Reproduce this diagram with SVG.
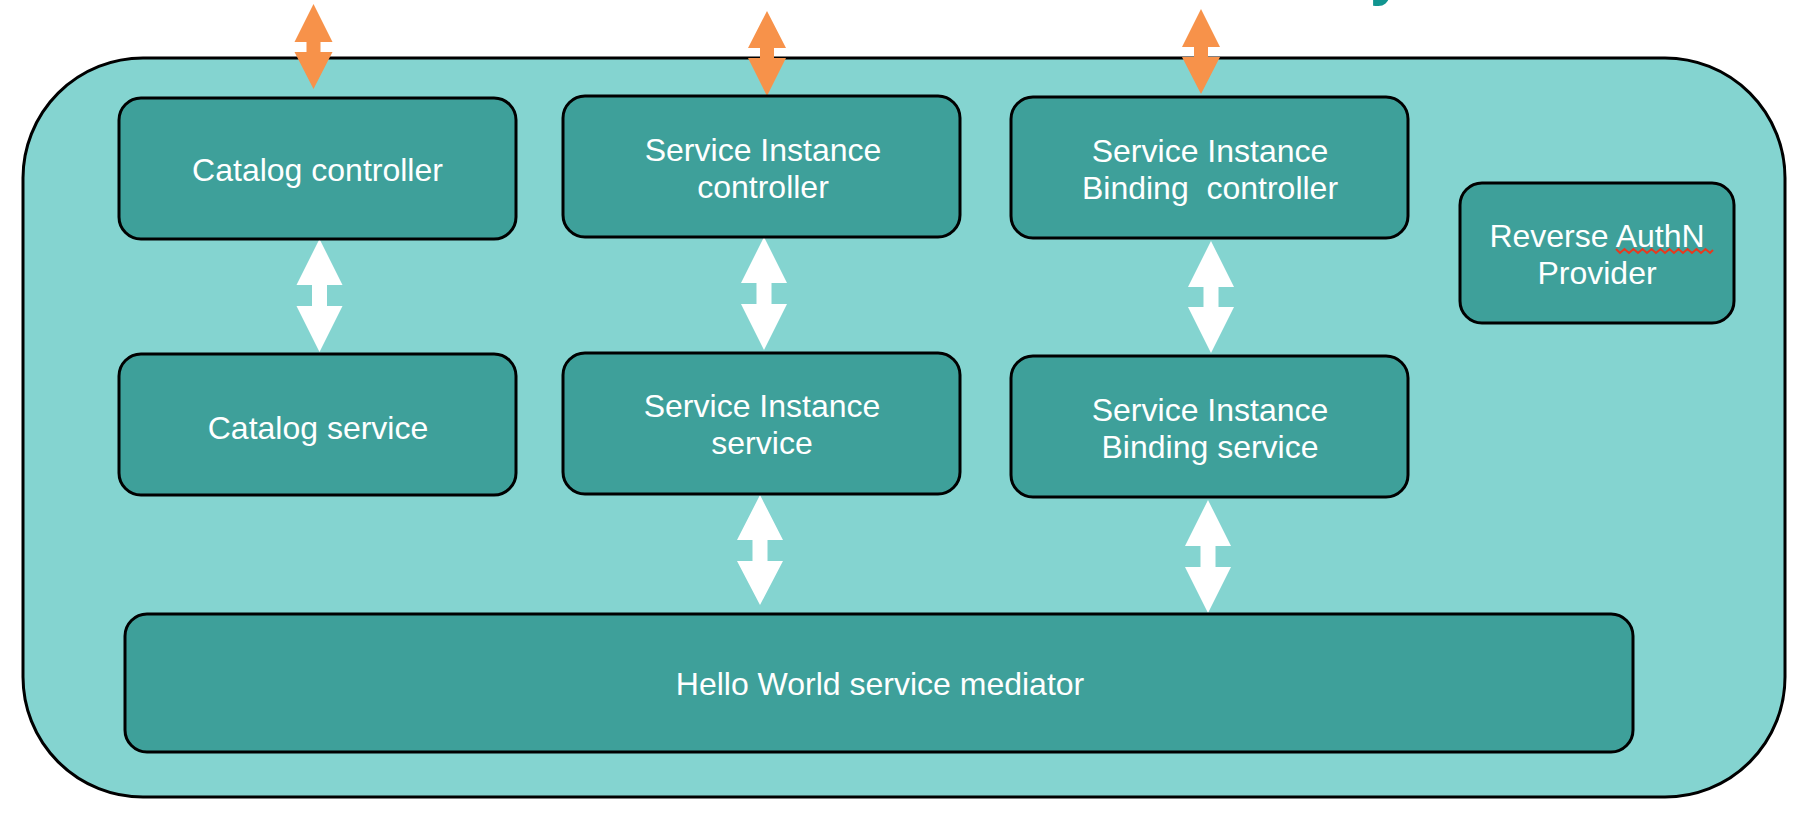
<svg xmlns="http://www.w3.org/2000/svg" width="1812" height="816" viewBox="0 0 1812 816">
<style>
.node rect{fill:#3EA09A;stroke:#000;stroke-width:3}
.node text{fill:#fff;font-family:"Liberation Sans",Arial,sans-serif;font-size:32px;text-anchor:middle}
.orange{fill:#F7924A}
.white{fill:#fff}
</style>
<rect width="1812" height="816" fill="#fff"/>
<text x="1370" y="-6" font-family="Liberation Sans,Arial,sans-serif" font-size="60" font-weight="bold" fill="#119590">y</text>
<g id="container">
<rect x="23" y="58" width="1762" height="739" rx="120" ry="120" fill="#84D4D0" stroke="#000" stroke-width="3"/>
</g>
<g id="connectors">
<polygon class="orange" points="313.5,4 332.5,42 320.5,42 320.5,52 332.5,52 313.5,89 294.5,52 306.5,52 306.5,42 294.5,42"/>
<polygon class="orange" points="767,11 786,48 774,48 774,58 786,58 767,96 748,58 760,58 760,48 748,48"/>
<polygon class="orange" points="1201,9 1220,47 1208,47 1208,57 1220,57 1201,94 1182,57 1194,57 1194,47 1182,47"/>
<polygon class="white" points="319.5,239 342.5,285 327,285 327,306 342.5,306 319.5,352 296.5,306 312,306 312,285 296.5,285"/>
<polygon class="white" points="764,237 787,283 771.5,283 771.5,304 787,304 764,350 741,304 756.5,304 756.5,283 741,283"/>
<polygon class="white" points="1211,241 1234,287 1218.5,287 1218.5,307 1234,307 1211,353 1188,307 1203.5,307 1203.5,287 1188,287"/>
<polygon class="white" points="760,495 783,540 767.5,540 767.5,561 783,561 760,605 737,561 752.5,561 752.5,540 737,540"/>
<polygon class="white" points="1208,500 1231,546 1215.5,546 1215.5,567 1231,567 1208,613 1185,567 1200.5,567 1200.5,546 1185,546"/>
</g>
<g id="catalog-controller" class="node">
<rect x="119" y="98" width="397" height="141" rx="22"/>
<text x="317.5" y="181">Catalog controller</text>
</g>
<g id="si-controller" class="node">
<rect x="563" y="96" width="397" height="141" rx="22"/>
<text x="763" y="161">Service Instance</text>
<text x="763" y="198">controller</text>
</g>
<g id="sib-controller" class="node">
<rect x="1011" y="97" width="397" height="141" rx="22"/>
<text x="1210" y="162">Service Instance</text>
<text x="1210" y="199" xml:space="preserve">Binding  controller</text>
</g>
<g id="reverse-authn" class="node">
<rect x="1460" y="183" width="274" height="140" rx="22"/>
<text x="1597" y="247">Reverse AuthN</text>
<text x="1597" y="284">Provider</text>
<polyline points="1616,249 1620,253 1624.5,249 1629,253 1633.5,249 1638,253 1642.5,249 1647,253 1651.5,249 1656,253 1660.5,249 1665,253 1669.5,249 1674,253 1678.5,249 1683,253 1687.5,249 1692,253 1696.5,249 1701,253 1705.5,249 1710,253 1713,250" fill="none" stroke="#E8391E" stroke-width="2"/>
</g>
<g id="catalog-service" class="node">
<rect x="119" y="354" width="397" height="141" rx="22"/>
<text x="318" y="439">Catalog service</text>
</g>
<g id="si-service" class="node">
<rect x="563" y="353" width="397" height="141" rx="22"/>
<text x="762" y="417">Service Instance</text>
<text x="762" y="454">service</text>
</g>
<g id="sib-service" class="node">
<rect x="1011" y="356" width="397" height="141" rx="22"/>
<text x="1210" y="421">Service Instance</text>
<text x="1210" y="458">Binding service</text>
</g>
<g id="mediator" class="node">
<rect x="125" y="614" width="1508" height="138" rx="22"/>
<text x="880" y="695">Hello World service mediator</text>
</g>
</svg>
